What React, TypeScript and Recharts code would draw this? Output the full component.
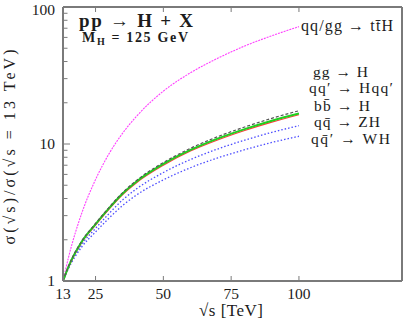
import React from "react";
import { LineChart, Line, XAxis, YAxis } from "recharts";

// sqrt(s) in TeV
const ENERGIES = [13, 15, 20, 25, 30, 35, 40, 50, 60, 70, 80, 90, 100];

// cross section ratio to 13 TeV
const TTH = [1, 1.48, 3.16, 5.5, 8.51, 12.0, 15.85, 24.3, 33.1, 42.2, 51.9, 61.7, 71.9];
const VBF = [1, 1.28, 1.97, 2.63, 3.45, 4.42, 5.4, 7.32, 9.3, 11.3, 13.3, 15.4, 17.5];
const GGH = [1, 1.27, 1.95, 2.6, 3.4, 4.35, 5.3, 7.15, 9.05, 10.95, 12.85, 14.8, 16.7];
const BBH = [1, 1.26, 1.93, 2.56, 3.35, 4.28, 5.2, 7.0, 8.88, 10.7, 12.55, 14.45, 16.35];
const ZH = [1, 1.25, 1.86, 2.42, 3.11, 3.91, 4.69, 6.19, 7.7, 9.19, 10.67, 12.16, 13.6];
const WH = [1, 1.23, 1.78, 2.28, 2.88, 3.56, 4.23, 5.47, 6.71, 7.91, 9.08, 10.26, 11.39];

const X_TICKS = [13, 25, 50, 75, 100];
const Y_TICKS = [1, 2, 3, 4, 5, 6, 7, 8, 9, 10, 20, 30, 40, 50, 60, 70, 80, 90, 100];
const Y_MAJOR = [1, 10, 100];

const data = ENERGIES.map((e, i) => ({
  e,
  tth: TTH[i],
  vbf: VBF[i],
  ggh: GGH[i],
  bbh: BBH[i],
  zh: ZH[i],
  wh: WH[i],
}));

const W = 404;
const H = 324;
const LEFT = 63;
const RIGHT = 402;
const TOP = 7;
const BOTTOM = 281;
const FRAME = "#7a7a7a";
const FONT = "'Liberation Serif', 'DejaVu Serif', serif";
const INK = "#1c1c1c";

const txt = { fontFamily: FONT, fill: INK };

const LeftTick = (props: any) => {
  const { y, payload } = props;
  const major = Y_MAJOR.includes(payload.value);
  return (
    <g>
      <line x1={LEFT} x2={LEFT + (major ? 7 : 4.5)} y1={y} y2={y} stroke={FRAME} strokeWidth={1} />
      {major && (
        <text x={55} y={Math.max(y + 5, 14.5)} textAnchor="end" fontSize={15.5} style={txt}>
          {payload.value}
        </text>
      )}
    </g>
  );
};

const RightTick = (props: any) => {
  const { y, payload } = props;
  const major = Y_MAJOR.includes(payload.value);
  return <line x1={RIGHT} x2={RIGHT - (major ? 7 : 4.5)} y1={y} y2={y} stroke={FRAME} strokeWidth={1} />;
};

const BottomTick = (props: any) => {
  const { x, payload } = props;
  return (
    <g>
      <line x1={x} x2={x} y1={BOTTOM} y2={BOTTOM - 5} stroke={FRAME} strokeWidth={1} />
      <text x={x} y={299} textAnchor="middle" fontSize={15.5} style={txt}>
        {payload.value}
      </text>
    </g>
  );
};

const TopTick = (props: any) => {
  const { x } = props;
  return <line x1={x} x2={x} y1={TOP} y2={TOP + 5} stroke={FRAME} strokeWidth={1} />;
};

export default function App() {
  return (
    <div style={{ position: "absolute", left: 0, top: 0, width: W, height: H, background: "#fff" }}>
      <LineChart width={W} height={H} data={data} margin={{ top: 0, right: 0, bottom: 0, left: 0 }}>
        <XAxis
          dataKey="e"
          type="number"
          domain={[13, 138]}
          ticks={X_TICKS}
          height={H - BOTTOM}
          axisLine={{ stroke: FRAME, strokeWidth: 2 }}
          tickLine={false}
          tick={<BottomTick />}
          interval={0}
          allowDataOverflow
        />
        <XAxis
          xAxisId="top"
          orientation="top"
          dataKey="e"
          type="number"
          domain={[13, 138]}
          ticks={X_TICKS}
          height={TOP}
          axisLine={{ stroke: FRAME, strokeWidth: 2 }}
          tickLine={false}
          tick={<TopTick />}
          interval={0}
        />
        <YAxis
          type="number"
          scale="log"
          domain={[1, 100]}
          ticks={Y_TICKS}
          width={LEFT}
          axisLine={{ stroke: FRAME, strokeWidth: 2 }}
          tickLine={false}
          tick={<LeftTick />}
          interval={0}
          allowDataOverflow
        />
        <YAxis
          yAxisId="right"
          orientation="right"
          type="number"
          scale="log"
          domain={[1, 100]}
          ticks={Y_TICKS}
          width={W - RIGHT}
          axisLine={{ stroke: FRAME, strokeWidth: 2 }}
          tickLine={false}
          tick={<RightTick />}
          interval={0}
        />
        <Line dataKey="tth" type="monotone" stroke="#ff40ff" strokeWidth={1.1} strokeDasharray="2 1" dot={false} isAnimationActive={false} />
        <Line dataKey="wh" type="monotone" stroke="#4d4dff" strokeWidth={1.3} strokeDasharray="1.5 2" dot={false} isAnimationActive={false} />
        <Line dataKey="zh" type="monotone" stroke="#4d4dff" strokeWidth={1.3} strokeDasharray="1.5 2" dot={false} isAnimationActive={false} />
        <Line dataKey="bbh" type="monotone" stroke="#ff3a3a" strokeWidth={1.2} dot={false} isAnimationActive={false} />
        <Line dataKey="ggh" type="monotone" stroke="#1ed01e" strokeWidth={2} dot={false} isAnimationActive={false} />
        <Line dataKey="vbf" type="monotone" stroke="#555" strokeWidth={1.2} strokeDasharray="3 2" dot={false} isAnimationActive={false} />
      </LineChart>
      <svg width={W} height={H} style={{ position: "absolute", left: 0, top: 0, pointerEvents: "none" }}>
        <text x={79} y={27} fontSize={19} fontWeight="bold" style={txt} textLength={114} lengthAdjust="spacing">
          pp → H + X
        </text>
        <text x={82} y={42} fontSize={14} fontWeight="bold" style={txt} textLength={106} lengthAdjust="spacing">
          <tspan>M</tspan>
          <tspan fontSize={10} dy={3}>H</tspan>
          <tspan dy={-3}> = 125 GeV</tspan>
        </text>
        <text x={301} y={31} fontSize={16} style={txt} textLength={92} lengthAdjust="spacing">
          qq/gg → tt̄H
        </text>
        <text x={313} y={77} fontSize={15.5} style={txt} textLength={55} lengthAdjust="spacing">
          gg → H
        </text>
        <text x={309} y={93} fontSize={15.5} style={txt} textLength={84} lengthAdjust="spacing">
          qq′ → Hqq′
        </text>
        <text x={314} y={111} fontSize={15.5} style={txt} textLength={56} lengthAdjust="spacing">
          bb̄ → H
        </text>
        <text x={314} y={127} fontSize={15.5} style={txt} textLength={66} lengthAdjust="spacing">
          qq̄ → ZH
        </text>
        <text x={311} y={144} fontSize={15.5} style={txt} textLength={79} lengthAdjust="spacing">
          qq̄′ → WH
        </text>
        <text x={199} y={316} fontSize={17} style={txt} textLength={64} lengthAdjust="spacing">
          √s [TeV]
        </text>
        <text
          x={15}
          y={147}
          fontSize={16}
          textAnchor="middle"
          transform="rotate(-90 15 147)"
          style={txt}
          textLength={195}
          lengthAdjust="spacing"
        >
          σ(√s)/σ(√s = 13 TeV)
        </text>
      </svg>
    </div>
  );
}
